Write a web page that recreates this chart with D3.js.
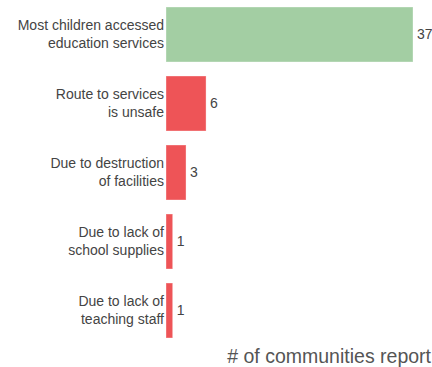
<!DOCTYPE html>
<html>
<head>
<meta charset="utf-8">
<script src="https://cdn.jsdelivr.net/npm/d3@7"></script>
<style>
  body { margin: 0; background: #fff; }
  svg { font-family: "Liberation Sans", Arial, sans-serif; }
</style>
</head>
<body>
<svg id="chart"></svg>
<script>
const categories = [
  ["Most children accessed", "education services"],
  ["Route to services", "is unsafe"],
  ["Due to destruction", "of facilities"],
  ["Due to lack of", "school supplies"],
  ["Due to lack of", "teaching staff"]
];
const values = [37, 6, 3, 1, 1];
const colors = ["#a3cea3", "#ee5457", "#ee5457", "#ee5457", "#ee5457"];
const axisTitle = "# of communities report";

const width = 432;
const height = 367;
const margin = { top: 7, right: 19, bottom: 29, left: 166 };

const svg = d3.select("#chart")
  .attr("width", width)
  .attr("height", height);

const x = d3.scaleLinear()
  .domain([0, 37])
  .range([margin.left, width - margin.right]);

const y = d3.scaleBand()
  .domain(d3.range(values.length))
  .range([margin.top, 338])
  .paddingInner(0.203)
  .paddingOuter(0);

const rows = svg.selectAll(".row")
  .data(values)
  .join("g")
  .classed("row", true);

rows.append("rect")
  .attr("x", x(0))
  .attr("y", (d, i) => y(i))
  .attr("width", d => x(d) - x(0))
  .attr("height", y.bandwidth())
  .attr("fill", (d, i) => colors[i])
  .attr("stroke", "rgba(255,255,255,0.35)")
  .attr("stroke-width", 1);

rows.append("text")
  .attr("x", d => x(d) + 4)
  .attr("y", (d, i) => y(i) + y.bandwidth() / 2)
  .attr("dy", "0.35em")
  .attr("font-size", 14)
  .attr("fill", "#444")
  .text(d => d);

const labels = rows.append("text")
  .attr("text-anchor", "end")
  .attr("font-size", 14)
  .attr("fill", "#444");

labels.selectAll("tspan")
  .data((d, i) => categories[i].map((t, j) => ({ t, j, i })))
  .join("tspan")
  .attr("x", x(0) - 2)
  .attr("y", d => y(d.i) + y.bandwidth() / 2 + (d.j - 0.5) * 18)
  .attr("dy", "0.35em")
  .text(d => d.t);

svg.append("text")
  .attr("x", width - 1)
  .attr("y", 363)
  .attr("text-anchor", "end")
  .attr("font-size", 19.5)
  .attr("fill", "#555")
  .text(axisTitle);
</script>
</body>
</html>
